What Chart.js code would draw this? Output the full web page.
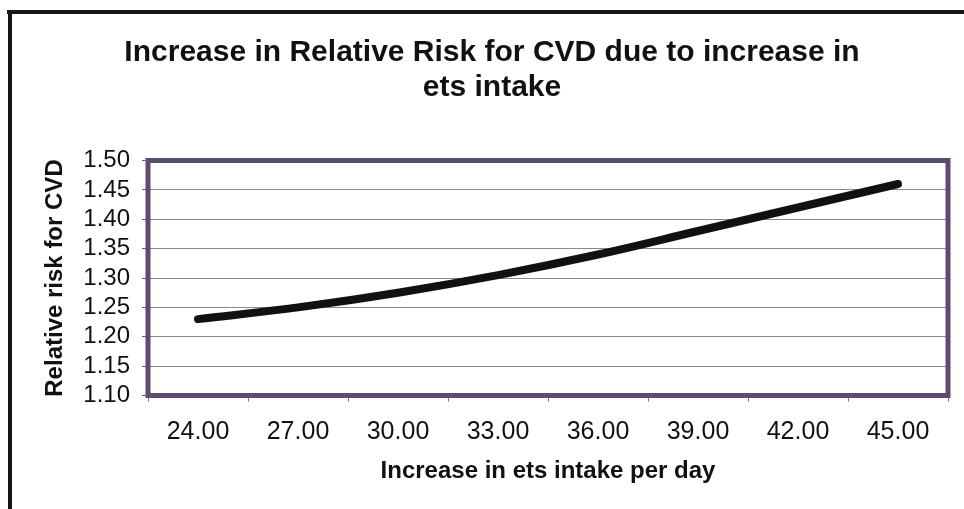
<!DOCTYPE html>
<html>
<head>
<meta charset="utf-8">
<script src="https://cdn.jsdelivr.net/npm/chart.js@4.4.1/dist/chart.umd.min.js"></script>
<style>
  html, body { margin: 0; padding: 0; background: #ffffff; }
  #wrap { width: 964px; height: 509px; position: relative; }
</style>
</head>
<body>
<div id="wrap"><canvas id="c"></canvas></div>
<script>
// Increase in ets intake per day (category axis labels)
const intakeLabels = ['24.00', '27.00', '30.00', '33.00', '36.00', '39.00', '42.00', '45.00'];
// Relative risk for CVD at each intake level
const relativeRisk = [1.23, 1.25, 1.275, 1.305, 1.34, 1.38, 1.42, 1.46];
// Value axis range and step
const yMin = 1.10;
const yMax = 1.50;
const yStep = 0.05;

const chartTitle = ['Increase in Relative Risk for CVD due to increase in', 'ets intake'];
const xAxisTitle = 'Increase in ets intake per day';
const yAxisTitle = 'Relative risk for CVD';

const FONT = "'Liberation Sans', Arial, Helvetica, sans-serif";

// White page with the heavy frame along the top and left edges
const framePlugin = {
  id: 'frame',
  beforeDraw(chart) {
    const ctx = chart.ctx;
    ctx.save();
    ctx.fillStyle = '#ffffff';
    ctx.fillRect(0, 0, chart.width, chart.height);
    ctx.fillStyle = '#161616';
    ctx.fillRect(7, 10, chart.width - 7, 4);
    ctx.fillRect(8, 10, 4, chart.height - 10);
    ctx.restore();
  }
};

// Purple-grey border round the plot area
const plotBorderPlugin = {
  id: 'plotBorder',
  beforeDatasetsDraw(chart) {
    const a = chart.chartArea;
    const ctx = chart.ctx;
    ctx.save();
    ctx.strokeStyle = '#5e4c70';
    ctx.lineWidth = 5;
    ctx.strokeRect(a.left, a.top, a.right - a.left, a.bottom - a.top);
    ctx.restore();
  }
};

new Chart(document.getElementById('c'), {
  type: 'line',
  data: {
    labels: intakeLabels,
    datasets: [{
      data: relativeRisk,
      borderColor: '#111111',
      borderWidth: 8,
      borderCapStyle: 'round',
      borderJoinStyle: 'round',
      tension: 0.4,
      pointRadius: 0,
      pointHoverRadius: 0,
      fill: false
    }]
  },
  options: {
    responsive: true,
    maintainAspectRatio: false,
    animation: false,
    events: [],
    layout: { padding: { left: 36, right: 16, top: 0, bottom: 0 } },
    plugins: {
      legend: { display: false },
      tooltip: { enabled: false },
      title: {
        display: true,
        text: chartTitle,
        color: '#111111',
        font: { family: FONT, size: 30, weight: 'bold', lineHeight: 35 / 30 },
        padding: { top: 35, bottom: 55.5 }
      }
    },
    scales: {
      x: {
        type: 'category',
        offset: true,
        afterFit(scale) { scale.height = 113.5; },
        border: { display: false },
        grid: {
          offset: true,
          drawOnChartArea: false,
          drawTicks: true,
          tickLength: 6,
          color: '#777777'
        },
        ticks: {
          color: '#111111',
          font: { family: FONT, size: 25 },
          padding: 16,
          maxRotation: 0,
          autoSkip: false
        },
        title: {
          display: true,
          text: xAxisTitle,
          color: '#111111',
          font: { family: FONT, size: 24, weight: 'bold', lineHeight: 1.2 },
          padding: { top: 0, bottom: 23 }
        }
      },
      y: {
        min: yMin,
        max: yMax,
        afterFit(scale) { scale.width = 112; },
        border: { display: false },
        grid: {
          color: '#8a8a8a',
          lineWidth: 1,
          drawTicks: true,
          tickLength: 6,
          tickColor: '#666666'
        },
        ticks: {
          stepSize: yStep,
          autoSkip: false,
          color: '#111111',
          font: { family: FONT, size: 24 },
          padding: 12,
          callback: (v) => Number(v).toFixed(2)
        },
        title: {
          display: true,
          text: yAxisTitle,
          color: '#111111',
          font: { family: FONT, size: 24, weight: 'bold', lineHeight: 1.2 },
          padding: { top: 4.6, bottom: 0 }
        }
      }
    }
  },
  plugins: [framePlugin, plotBorderPlugin]
});
</script>
</body>
</html>
